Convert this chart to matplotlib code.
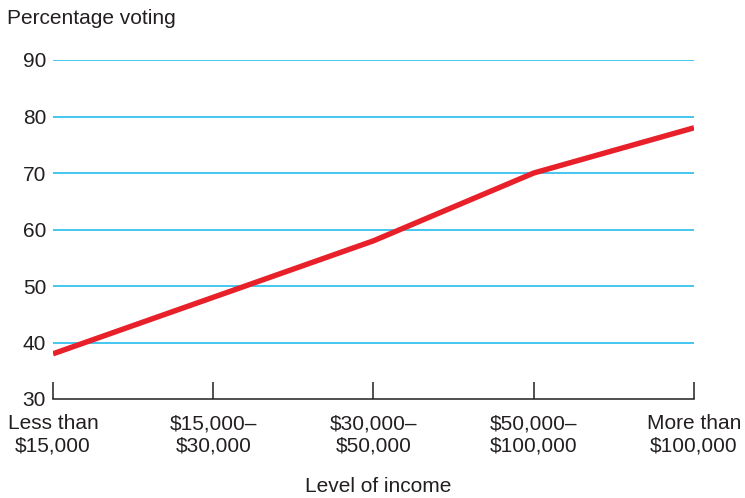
import matplotlib
matplotlib.use("Agg")
import matplotlib.pyplot as plt

categories = ["Less than\n$15,000", "$15,000–\n$30,000", "$30,000–\n$50,000",
              "$50,000–\n$100,000", "More than\n$100,000"]
pct_voting = [38, 48, 58, 70, 78]
y_ticks = [30, 40, 50, 60, 70, 80, 90]

plt.rcParams["font.family"] = ["Liberation Sans", "DejaVu Sans"]

fig = plt.figure(figsize=(7.45, 4.98), dpi=100)
ax = fig.add_axes([53 / 745, 1 - 399 / 498, (694 - 53) / 745, (399 - 60) / 498])

x = list(range(len(categories)))

# horizontal reference lines
for v in y_ticks[1:]:
    ax.axhline(v, color="#35c3ee", lw=1.3, zorder=1)

ax.plot(x, pct_voting, color="#e8202a", lw=3.9, solid_capstyle="butt", zorder=3)

ax.set_xlim(0, len(categories) - 1)
ax.set_ylim(30, 90)
ax.set_yticks(y_ticks)
ax.set_xticks(x)
ax.set_xticklabels(categories, fontsize=15, color="#231f20", linespacing=1.2)
ax.tick_params(axis="x", direction="in", length=12, width=1.1, color="#231f20", pad=11)
ax.tick_params(axis="y", length=0, pad=5, labelsize=15, labelcolor="#231f20")

for s in ("top", "right", "left"):
    ax.spines[s].set_visible(False)
ax.spines["bottom"].set_color("#231f20")
ax.spines["bottom"].set_linewidth(1.1)
ax.spines["bottom"].set_zorder(4)

fig.text(7 / 745, 1 - 18 / 498, "Percentage voting", fontsize=15, color="#231f20",
         ha="left", va="center")
fig.text(378 / 745, 1 - 486 / 498, "Level of income", fontsize=15, color="#231f20",
         ha="center", va="center")

fig.savefig("out.png", dpi=100)
